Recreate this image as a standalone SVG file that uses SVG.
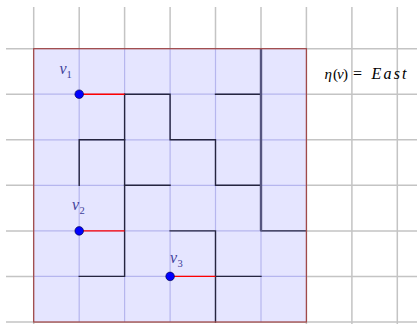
<svg xmlns="http://www.w3.org/2000/svg" width="417" height="324" viewBox="0 0 417 324">
<style>
.grid{stroke:#c4c4c4;stroke-width:1.5;fill:none}
.igrid{stroke:#b6b6ee;stroke-width:1.2;fill:none}
.wall{stroke:#25253f;stroke-width:1.4;fill:none;stroke-linecap:square}
.red{stroke:#ff0000;stroke-width:1.4;fill:none}
.dot{fill:#0000ff;stroke:#000033;stroke-width:0.6}
.lbl{font-family:"Liberation Serif","DejaVu Serif",serif;font-style:italic;font-size:16px;fill:#40409a}
.sub{font-family:"Liberation Serif","DejaVu Serif",serif;font-size:10.5px;fill:#40409a}
.eq{font-family:"Liberation Serif","DejaVu Serif",serif;font-size:15px;fill:#000}
</style>
<g id="grid">
<path class="grid" d="M33.7 7V324M79.2 7V49M124.6 7V49M170.1 7V49M215.5 7V49M261 7V49M306.4 7V324M351.9 7V324M397.3 7V324"/>
<path class="grid" d="M6 48.7H417M6 94.2H34M306 94.2H417M6 139.8H34M306 139.8H417M6 185.3H34M306 185.3H417M6 230.9H34M306 230.9H417M6 276.4H34M306 276.4H417M6 322H417"/>
</g>
<g id="region">
<rect x="33.7" y="48.7" width="272.7" height="273.3" fill="#e5e5ff"/>
<path class="igrid" d="M79.2 48.7V322M124.6 48.7V322M170.1 48.7V322M215.5 48.7V322M261 48.7V322M33.7 94.2H306.4M33.7 139.8H306.4M33.7 185.3H306.4M33.7 230.9H306.4M33.7 276.4H306.4"/>
</g>
<g id="connectors">
<path class="wall" d="M124.6 94.2H170.1V139.8H215.5V185.3H261"/>
<path class="wall" d="M215.5 94.2H261"/>
<path class="wall" d="M124.6 94.2V276.4H79.2"/>
<path class="wall" d="M124.6 139.8H79.2V185.3"/>
<path class="wall" d="M124.6 185.3H170.1"/>
<path class="wall" d="M170.1 230.9H215.5V322"/>
<path class="wall" d="M215.5 276.4H261"/>
<path class="wall" d="M261 230.9H306.4"/>
<path d="M261 48.7V230.9" stroke="#55557f" stroke-width="2.4" fill="none"/>
<rect x="33.7" y="48.7" width="272.7" height="273.3" fill="none" stroke="#a04a4a" stroke-width="1.3"/>
<path class="red" d="M79.2 94.2H124.6M79.2 230.9H124.6M170.1 276.4H215.5"/>
</g>
<g id="v1">
<circle class="dot" cx="79.2" cy="94.2" r="4.3"/>
<text class="lbl" x="59.5" y="74">v</text><text class="sub" x="66.5" y="77.5">1</text>
</g>
<g id="v2">
<circle class="dot" cx="79.2" cy="230.9" r="4.3"/>
<text class="lbl" x="72" y="210">v</text><text class="sub" x="79.5" y="213.5">2</text>
</g>
<g id="v3">
<circle class="dot" cx="170.1" cy="276.4" r="4.3"/>
<text class="lbl" x="170" y="263">v</text><text class="sub" x="177.5" y="266.5">3</text>
</g>
<g id="label">
<text class="eq" y="78.5"><tspan x="324.5" font-style="italic">η</tspan><tspan x="333">(</tspan><tspan x="337" font-style="italic">v</tspan><tspan x="343">)</tspan><tspan x="353" font-size="16">=</tspan><tspan x="371.5" font-style="italic" font-size="16" textLength="35" lengthAdjust="spacing">East</tspan></text>
</g>
</svg>
